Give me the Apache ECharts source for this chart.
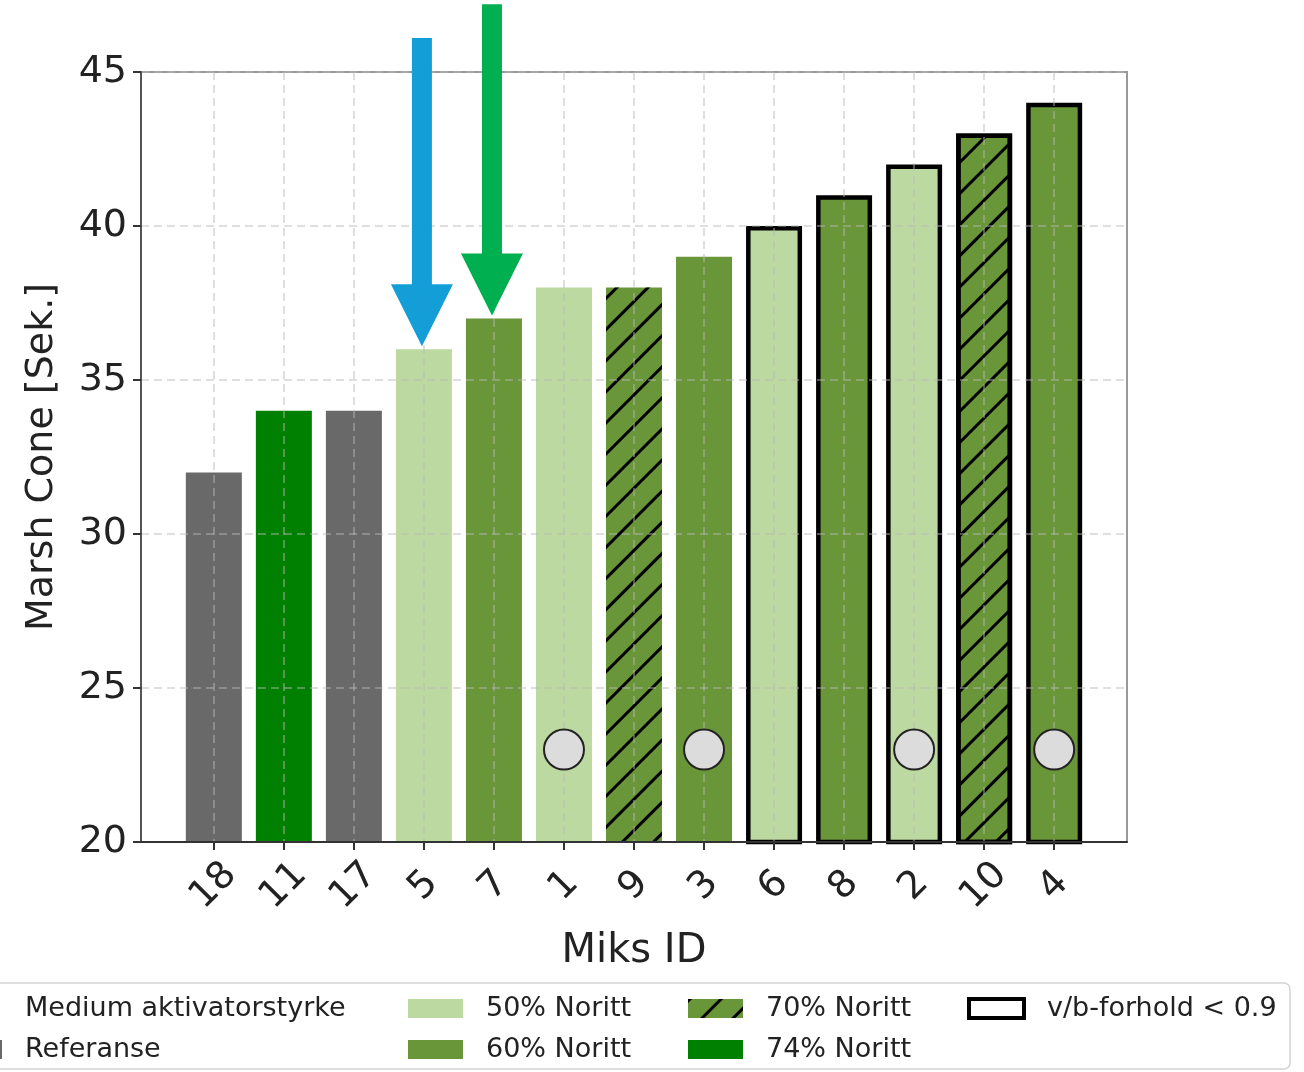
<!DOCTYPE html>
<html>
<head>
<meta charset="utf-8">
<script src="https://cdn.jsdelivr.net/npm/echarts@6/dist/echarts.min.js"></script>
<style>
  html, body { margin: 0; padding: 0; background: #fff; }
  #chart { width: 1304px; height: 1072px; }
</style>
</head>
<body>
<div id="chart"></div>
<script>
// Mix IDs in plotting order and their Marsh cone times (seconds)
const mixIds = ['18', '11', '17', '5', '7', '1', '9', '3', '6', '8', '2', '10', '4'];
const marshCone = [32, 34, 34, 36, 37, 38, 38, 39, 40, 41, 42, 43, 44];
// Binder group of each mix
const mixGroup = ['ref', 'n74', 'ref', 'n50', 'n60', 'n50', 'n70', 'n60', 'n50', 'n60', 'n50', 'n70', 'n60'];
// 1 = w/b ratio below 0.9 (drawn with a heavy outline)
const lowWB = [0, 0, 0, 0, 0, 0, 0, 0, 1, 1, 1, 1, 1];
// 1 = medium activator strength (grey dot inside the bar)
const mediumAct = [0, 0, 0, 0, 0, 1, 0, 1, 0, 0, 1, 0, 1];
const dotLevel = 23;
// Y axis range and ticks
const yMin = 20, yMax = 45, yStep = 5;
// Highlight arrows: mix index, colour, top of the shaft (y units)
const arrowMix = [3, 4];
const arrowColor = ['#139ed7', '#00b050'];
const arrowTop = [46.1, 47.2];

const groups = [
  { key: 'ref', name: 'Referanse', color: '#696969' },
  { key: 'n50', name: '50% Noritt', color: '#bcd9a1' },
  { key: 'n60', name: '60% Noritt', color: '#6a963a' },
  { key: 'n70', name: '70% Noritt', color: '#6a963a', hatch: true },
  { key: 'n74', name: '74% Noritt', color: '#008000' }
];

const FONT = 'DejaVu Sans';
const hatchDecal = {
  symbol: 'rect',
  symbolSize: 1,
  dashArrayX: [[1, 0]],
  dashArrayY: [2.2, 19],
  rotation: -Math.PI / 4,
  color: '#000'
};

const series = [];
groups.forEach(g => {
  const data = [];
  mixIds.forEach((id, i) => {
    if (mixGroup[i] !== g.key) return;
    const item = { value: [i, marshCone[i]] };
    if (lowWB[i]) item.itemStyle = { borderColor: '#000', borderWidth: 4.5 };
    data.push(item);
  });
  const itemStyle = { color: g.color };
  if (g.hatch) itemStyle.decal = hatchDecal;
  series.push({
    type: 'bar', name: g.name, data: data,
    barWidth: 56, barGap: '-100%',
    itemStyle: itemStyle, z: 2
  });
});
// legend-only entry for the outline meaning
series.push({
  type: 'bar', name: 'v/b-forhold < 0.9', data: [],
  barWidth: 56, barGap: '-100%',
  itemStyle: { color: '#fff', borderColor: '#000', borderWidth: 4 }
});
series.push({
  type: 'scatter', name: 'Medium aktivatorstyrke',
  data: mixIds.map((id, i) => mediumAct[i] ? [i, dotLevel] : null).filter(d => d),
  symbol: 'circle', symbolSize: 40,
  itemStyle: { color: '#dcdcdc', borderColor: '#222', borderWidth: 2, opacity: 1 },
  z: 12
});

const tickIdx = mixIds.map((id, i) => i);
const legendText = { fontFamily: FONT, fontSize: 27, color: '#222', padding: [0, 0, 0, 18] };
function legendCol(left, names) {
  return {
    orient: 'vertical', left: left, top: 995, height: 120, padding: 0,
    itemWidth: 55, itemHeight: 19, itemGap: 14, icon: 'rect',
    selectedMode: false, textStyle: legendText,
    data: names
  };
}

const option = {
  animation: false,
  grid: {
    left: 141, right: 177, top: 72, bottom: 230,
    show: true, borderColor: '#999', borderWidth: 2, backgroundColor: 'transparent'
  },
  xAxis: {
    type: 'value', min: -1.04, max: 13.04, z: 10,
    name: 'Miks ID', nameLocation: 'middle', nameGap: 90,
    nameTextStyle: { fontFamily: FONT, fontSize: 40, color: '#222' },
    axisLine: { show: true, onZero: false, lineStyle: { color: '#333', width: 2 } },
    axisTick: { show: true, customValues: tickIdx, length: 8, lineStyle: { color: '#333', width: 2 } },
    axisLabel: {
      customValues: tickIdx, rotate: 45, align: 'center', verticalAlign: 'middle', margin: 44,
      fontFamily: FONT, fontSize: 38, color: '#222',
      formatter: v => mixIds[Math.round(v)]
    },
    splitLine: { show: true, lineStyle: { color: 'rgba(185,185,185,0.6)', width: 1.5, type: [8, 5] } }
  },
  yAxis: {
    type: 'value', min: yMin, max: yMax, interval: yStep, z: 10,
    name: 'Marsh Cone [Sek.]', nameLocation: 'middle', nameGap: 80, nameRotate: 90,
    nameTextStyle: { fontFamily: FONT, fontSize: 38, color: '#222' },
    axisLine: { show: true, onZero: false, lineStyle: { color: '#555', width: 2 } },
    axisTick: { show: true, length: 8, lineStyle: { color: '#333', width: 2 } },
    axisLabel: { fontFamily: FONT, fontSize: 38, color: '#222', margin: 14 },
    splitLine: { show: true, lineStyle: { color: 'rgba(185,185,185,0.6)', width: 1.5, type: [8, 5] } }
  },
  legend: [
    legendCol(-53, [{ name: 'Medium aktivatorstyrke', icon: 'circle' }, 'Referanse']),
    legendCol(408, ['50% Noritt', '60% Noritt']),
    legendCol(688, [{ name: '70% Noritt', itemStyle: { decal: hatchDecal } }, '74% Noritt']),
    legendCol(967, [{ name: 'v/b-forhold < 0.9', itemStyle: { color: '#fff', borderColor: '#000', borderWidth: 4 } }])
  ],
  series: series
};

const chart = echarts.init(document.getElementById('chart'), null, { renderer: 'canvas' });
chart.setOption(option);

// Legend frame and highlight arrows, positioned through the chart's scales
const graphics = [{
  type: 'rect', silent: true, z: 0,
  shape: { x: -10, y: 983, width: 1300, height: 86, r: 6 },
  style: { fill: '#fff', stroke: '#d4d4d4', lineWidth: 1.5 }
}];
arrowMix.forEach((mi, k) => {
  const tip = chart.convertToPixel({ gridIndex: 0 }, [mi, marshCone[mi]]);
  const top = chart.convertToPixel({ gridIndex: 0 }, [mi, arrowTop[k]]);
  const x = tip[0] - 2, ty = tip[1] - 3, sy = top[1];
  const hw = 10, hh = 62, hs = 31;
  graphics.push({
    type: 'polygon', silent: true, z: 20,
    shape: { points: [
      [x - hw, sy], [x + hw, sy], [x + hw, ty - hh], [x + hs, ty - hh],
      [x, ty], [x - hs, ty - hh], [x - hw, ty - hh]
    ] },
    style: { fill: arrowColor[k] }
  });
});
chart.setOption({ graphic: graphics });
</script>
</body>
</html>
